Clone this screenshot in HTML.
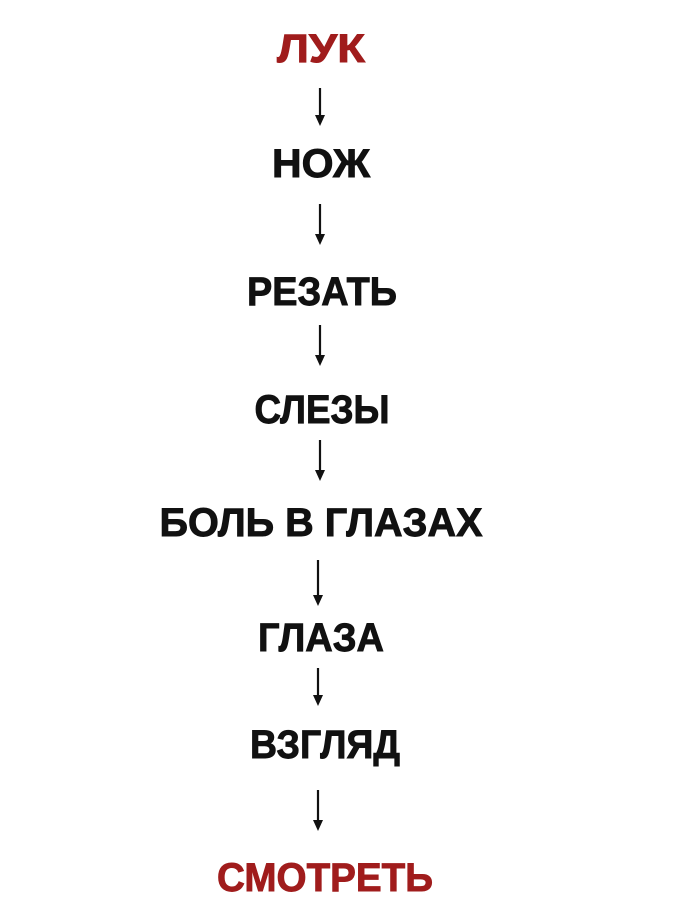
<!DOCTYPE html>
<html><head><meta charset="utf-8"><style>
html,body{margin:0;padding:0;background:#fff;width:673px;height:924px;overflow:hidden}
svg text{font-family:"Liberation Sans","DejaVu Sans",sans-serif;font-weight:bold;font-size:40px;text-anchor:middle;stroke-width:0.9px}
</style></head><body>
<svg width="673" height="924">
<text x="321" y="62" fill="#a01c1c" stroke="#a01c1c" textLength="88" lengthAdjust="spacingAndGlyphs">ЛУК</text>
<text x="321" y="177" fill="#111" stroke="#111" textLength="98" lengthAdjust="spacingAndGlyphs">НОЖ</text>
<text x="322" y="305" fill="#111" stroke="#111" textLength="150" lengthAdjust="spacingAndGlyphs">РЕЗАТЬ</text>
<text x="322" y="423" fill="#111" stroke="#111" textLength="135" lengthAdjust="spacingAndGlyphs">СЛЕЗЫ</text>
<text x="321" y="536" fill="#111" stroke="#111" textLength="323" lengthAdjust="spacingAndGlyphs">БОЛЬ В ГЛАЗАХ</text>
<text x="321" y="651" fill="#111" stroke="#111" textLength="126" lengthAdjust="spacingAndGlyphs">ГЛАЗА</text>
<text x="325" y="758" fill="#111" stroke="#111" textLength="150" lengthAdjust="spacingAndGlyphs">ВЗГЛЯД</text>
<text x="325" y="891" fill="#a01c1c" stroke="#a01c1c" textLength="216" lengthAdjust="spacingAndGlyphs">СМОТРЕТЬ</text>
<g stroke="#111" stroke-width="2.2" fill="#111">
<g><line x1="320" y1="88" x2="320" y2="118"/><path d="M315 115 L325 115 L320 126 Z" stroke="none"/></g>
<g><line x1="320" y1="204" x2="320" y2="237"/><path d="M315 234 L325 234 L320 245 Z" stroke="none"/></g>
<g><line x1="320" y1="325" x2="320" y2="358"/><path d="M315 355 L325 355 L320 366 Z" stroke="none"/></g>
<g><line x1="320" y1="440" x2="320" y2="473"/><path d="M315 470 L325 470 L320 481 Z" stroke="none"/></g>
<g><line x1="318" y1="560" x2="318" y2="598"/><path d="M313 595 L323 595 L318 606 Z" stroke="none"/></g>
<g><line x1="318" y1="668" x2="318" y2="698"/><path d="M313 695 L323 695 L318 706 Z" stroke="none"/></g>
<g><line x1="318" y1="790" x2="318" y2="823"/><path d="M313 820 L323 820 L318 831 Z" stroke="none"/></g>
</g>
</svg>
</body></html>
